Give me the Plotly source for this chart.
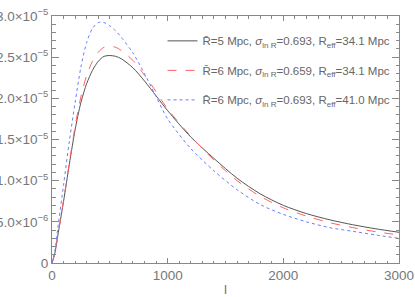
import plotly.graph_objects as go

ell = [0, 25, 50, 100, 150, 200, 250, 300, 350, 400, 450, 500, 550, 600, 700, 800, 900,
       1000, 1200, 1400, 1600, 1800, 2000, 2200, 2400, 2600, 2800, 3000]

# values in units of 1e-5
black_vals = [0, 0.12, 0.33, 0.75, 1.20, 1.62, 1.95, 2.18, 2.34, 2.45, 2.51, 2.52, 2.51, 2.48,
              2.37, 2.21, 2.03, 1.85, 1.53, 1.27, 1.03, 0.84, 0.70, 0.60, 0.525, 0.465, 0.415, 0.373]
red_vals = [0, 0.12, 0.33, 0.76, 1.22, 1.66, 2.02, 2.28, 2.45, 2.56, 2.62, 2.63, 2.62, 2.58,
            2.46, 2.28, 2.08, 1.87, 1.54, 1.25, 1.00, 0.81, 0.67, 0.57, 0.49, 0.43, 0.38, 0.34]
blue_vals = [0, 0.15, 0.42, 0.95, 1.48, 1.95, 2.38, 2.68, 2.85, 2.92, 2.92, 2.88, 2.82, 2.74,
             2.55, 2.30, 2.02, 1.75, 1.39, 1.12, 0.89, 0.71, 0.59, 0.50, 0.43, 0.385, 0.34, 0.30]

names = [
    "R\u0304=5 Mpc, <i>σ</i><sub>ln R</sub>=0.693, R<sub>eff</sub>=34.1 Mpc",
    "R\u0304=6 Mpc, <i>σ</i><sub>ln R</sub>=0.659, R<sub>eff</sub>=34.1 Mpc",
    "R\u0304=6 Mpc, <i>σ</i><sub>ln R</sub>=0.693, R<sub>eff</sub>=41.0 Mpc",
]

ytickvals = [0, 0.5e-5, 1.0e-5, 1.5e-5, 2.0e-5, 2.5e-5, 3.0e-5]
yticktext = ["0", "5.0×10<sup>−6</sup>", "1.0×10<sup>−5</sup>", "1.5×10<sup>−5</sup>",
             "2.0×10<sup>−5</sup>", "2.5×10<sup>−5</sup>", "3.0×10<sup>−5</sup>"]
xtickvals = [0, 1000, 2000, 3000]
xticktext = ["0", "1000", "2000", "3000"]

styles = [
    dict(color="#555555", width=1, dash="solid"),
    dict(color="#ff6060", width=1, dash="dash"),
    dict(color="#6a7cff", width=1, dash="dot"),
]

fig = go.Figure()
for i, vals in enumerate([black_vals, red_vals, blue_vals]):
    fig.add_trace(go.Scatter(
        x=ell, y=[v * 1e-5 for v in vals], mode="lines", name=names[i],
        line=dict(shape="spline", smoothing=0.8, **styles[i]), legendgroup=f"g{i}",
    ))

axis_color = "#888888"
tick_font = dict(family="Liberation Sans, Arial, sans-serif", size=13.5, color="#777777")

fig.update_layout(
    template="none",
    width=415, height=297,
    margin=dict(l=52, r=16, t=16, b=34),
    paper_bgcolor="white", plot_bgcolor="white",
    showlegend=True,
    legend=dict(
        x=0.99, xanchor="right", y=0.958, yanchor="top",
        bgcolor="rgba(0,0,0,0)", borderwidth=0,
        font=dict(family="Liberation Sans, Arial, sans-serif", size=11.5, color="#666666"),
        tracegroupgap=10.5,
    ),
    xaxis=dict(
        range=[0, 3000], tickvals=xtickvals, ticktext=xticktext,
        showline=True, linecolor=axis_color, linewidth=1, mirror="ticks",
        ticks="inside", ticklen=5, tickcolor=axis_color,
        minor=dict(ticks="inside", ticklen=2.5, dtick=100, tickcolor=axis_color, showgrid=False),
        showgrid=False, zeroline=False, automargin=False,
        tickfont=tick_font,
        title=dict(text="l", font=tick_font, standoff=14),
    ),
    yaxis=dict(
        range=[0, 3.0e-5], tickvals=ytickvals, ticktext=yticktext,
        showline=True, linecolor=axis_color, linewidth=1, mirror="ticks",
        ticks="inside", ticklen=7, tickcolor=axis_color,
        minor=dict(ticks="inside", ticklen=3.5, dtick=1e-6, tickcolor=axis_color, showgrid=False),
        showgrid=False, zeroline=False, automargin=False,
        tickfont=tick_font,
    ),
)

fig.write_html("out.html", config={"displayModeBar": False},
               post_script="document.body.style.margin='0';")
